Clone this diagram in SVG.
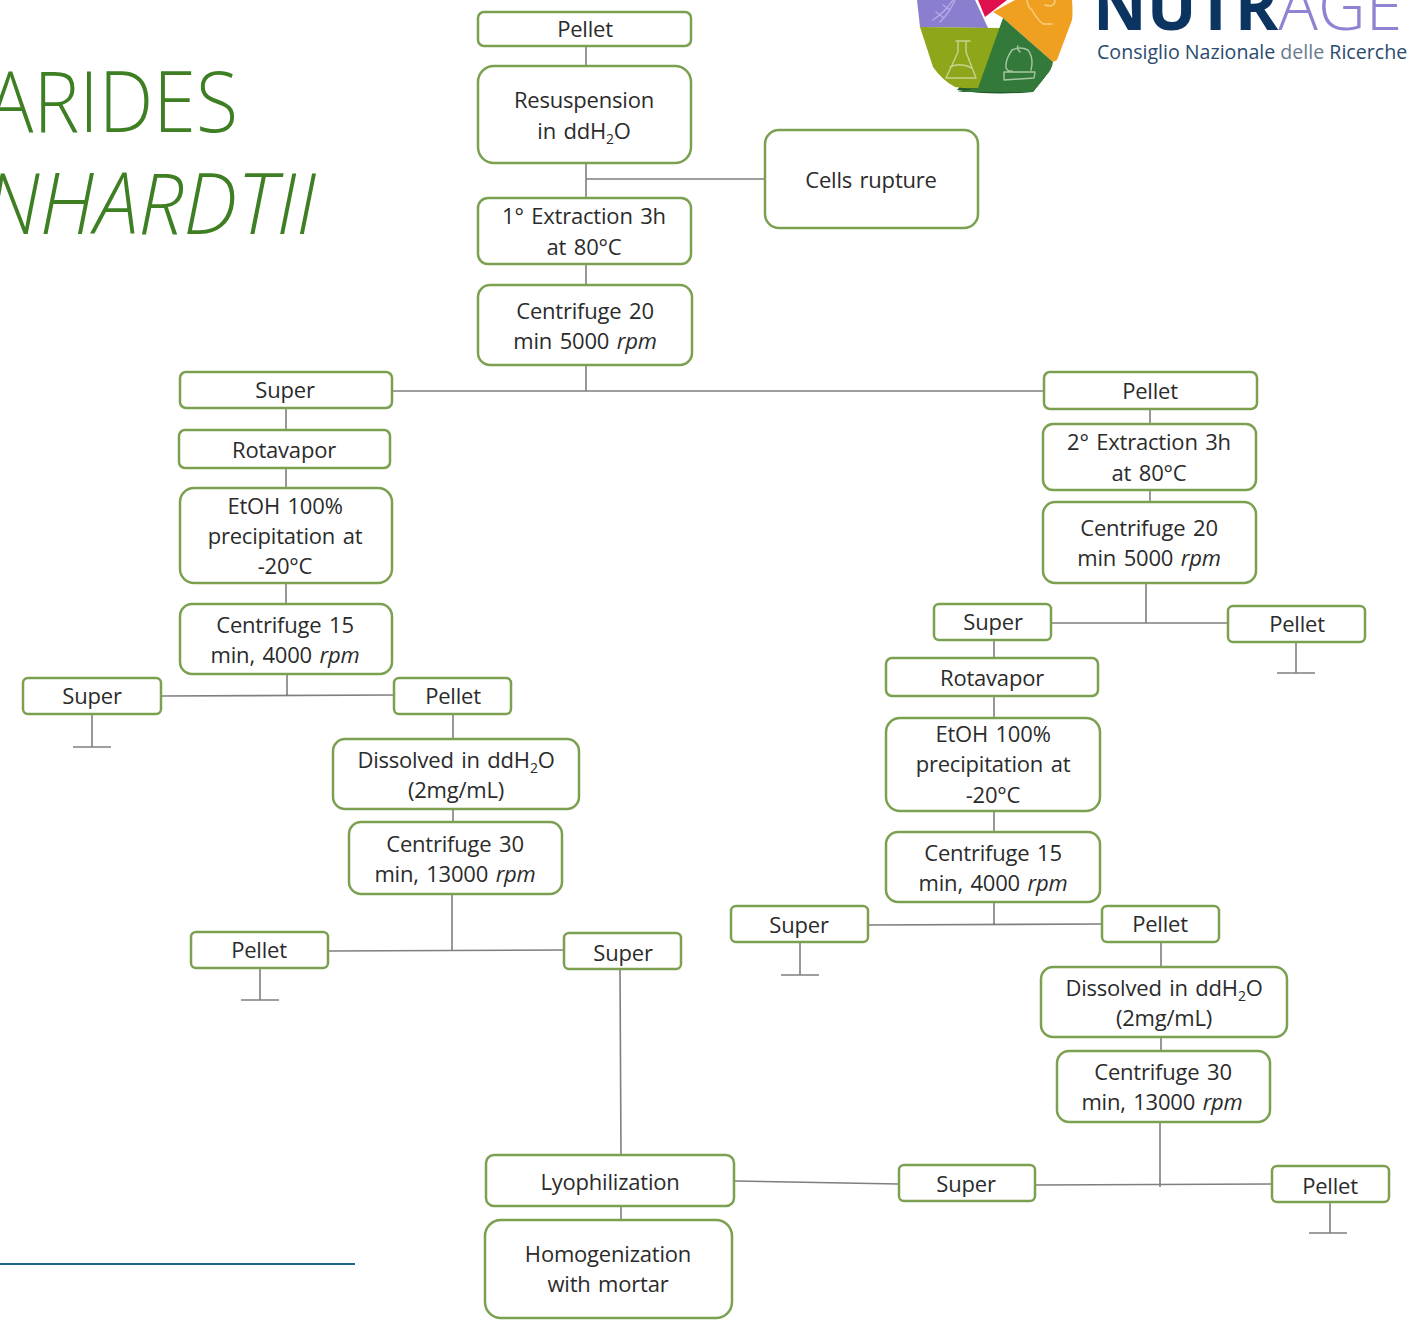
<svg xmlns="http://www.w3.org/2000/svg" width="1409" height="1326" viewBox="0 0 1409 1326">
<style>
.b{fill:#fff;stroke:#7ba050;stroke-width:2.5}
.c path,.c line{fill:none;stroke:#7f7f7f;stroke-width:1.6}
.t{font-family:"Open Sans","Noto Sans",sans-serif;font-size:22px;fill:#2b2b2b;text-anchor:middle;letter-spacing:-.2px;word-spacing:2px}
.i{font-style:italic}
.s{font-size:14px}
.h{font-family:"Open Sans","Noto Sans",sans-serif;font-weight:300;font-size:84px;fill:#3f7f23}
.ic{fill:none;stroke-width:1.4;stroke-linejoin:round;stroke-linecap:round}
</style>
<rect width="1409" height="1326" fill="#fff"/>
<g id="title">
<text class="h" x="-13" y="132" textLength="251" lengthAdjust="spacingAndGlyphs">ARIDES</text>
<text class="h" x="-15" y="234" font-style="italic" textLength="331" lengthAdjust="spacingAndGlyphs">NHARDTII</text>
<line x1="0" y1="1264" x2="355" y2="1264" stroke="#1f6386" stroke-width="2.2"/>
</g>
<g id="logo">
<path d="M957 90 Q990 96 1033 92 L1045 77 L1000 40 Z" fill="#1f5a2c"/>
<path d="M917 0 L975 0 L988 28 L920 27 Z" fill="#8a7fcf"/>
<path d="M978 0 L1007 0 L985 17 Z" fill="#e0104f"/>
<path d="M993 12 L1015 0 L1072 0 Q1073 12 1072 20 L1057 60 L1053 62 L1003 18 Z" fill="#f0a020"/>
<path d="M920 27 L1000 28 L980 88 Q965 89 955 87 Q942 80 933 67 Z" fill="#8da61a"/>
<path d="M1003 18 L1053 62 Q1052 70 1045 77 L1033 92 L957 92 L978 88 Z" fill="#33793a"/>
<path class="ic" stroke="#b7a9ea" d="M933 20Q945 12 953 0M940 22Q950 12 955 0M936 12L944 18M943 5L950 10"/>
<path class="ic" stroke="#f7cf83" d="M1027 0Q1028 8 1032 10Q1036 18 1043 24H1052M1045 5Q1055 8 1055 0"/>
<path class="ic" stroke="#c8d48c" d="M956 41H970M958 41V52L946 78H976L966 52V41M950 67Q960 62 972 68"/>
<path class="ic" stroke="#a5c8a0" d="M1012 50Q1005 60 1006 68Q1008 72 1012 71M1012 50Q1020 46 1028 50Q1034 58 1031 70M1018 46Q1016 48 1020 52M1004 72L1035 72L1034 78L1004 80Z"/>
<text x="1093" y="30" font-family="'Open Sans',sans-serif" font-weight="700" font-size="66" fill="#0b3560">NUTR<tspan font-weight="300" fill="#8f83d2">AGE</tspan></text>
<text x="1097" y="59" font-family="'Open Sans',sans-serif" font-size="19.6" fill="#2a4a70">Consiglio Nazionale <tspan fill="#6b7a8c">delle</tspan> Ricerche</text>
</g>
<g class="c" id="connectors">
<path d="M586 46V66M586 163V198M586 179H765M586 264V285M586 365V391M392 391H1044"/>
<path d="M286 408V430M286 468V488M286 583V604M287 674V696M161 696L394 695M92 714V747M73 747H111"/>
<path d="M453 714V739M453 809V822M452 894V951M328 951L564 950M260 968V1000M241 1000H279"/>
<path d="M620 969L621 1155M621 1206V1220M734 1181L899 1184"/>
<path d="M1150 409V424M1150 490V502M1146 583V623M1051 623H1228M1296 642V673M1277 673H1315"/>
<path d="M994 640V658M994 696V718M994 811V832M994 902V924M868 925L1102 924M800 942V975M781 975H819"/>
<path d="M1161 942V967M1161 1037V1051M1160 1122V1187M1035 1185L1272 1184M1330 1202V1233M1309 1233H1347"/>
</g>
<g id="n1"><rect class="b" x="478" y="12" width="213" height="34" rx="6"/><text class="t" x="585" y="37">Pellet</text></g>
<g id="n2"><rect class="b" x="478" y="66" width="213" height="97" rx="16"/><text class="t" x="584" y="108">Resuspension</text><text class="t" x="584" y="139">in ddH<tspan class="s" dy="5">2</tspan><tspan dy="-5">O</tspan></text></g>
<g id="n3"><rect class="b" x="765" y="130" width="213" height="98" rx="14"/><text class="t" x="871" y="188">Cells rupture</text></g>
<g id="n4"><rect class="b" x="478" y="198" width="213" height="66" rx="10"/><text class="t" x="584" y="224">1° Extraction 3h</text><text class="t" x="584" y="255">at 80°C</text></g>
<g id="n5"><rect class="b" x="478" y="285" width="214" height="80" rx="12"/><text class="t" x="585" y="319">Centrifuge 20</text><text class="t" x="585" y="349">min 5000 <tspan class="i">rpm</tspan></text></g>
<g id="n6"><rect class="b" x="180" y="372" width="212" height="36" rx="6"/><text class="t" x="285" y="398">Super</text></g>
<g id="n7"><rect class="b" x="179" y="430" width="211" height="38" rx="6"/><text class="t" x="284" y="458">Rotavapor</text></g>
<g id="n8"><rect class="b" x="180" y="488" width="212" height="95" rx="14"/><text class="t" x="285" y="514">EtOH 100%</text><text class="t" x="285" y="544">precipitation at</text><text class="t" x="285" y="574">-20°C</text></g>
<g id="n9"><rect class="b" x="180" y="604" width="212" height="70" rx="12"/><text class="t" x="285" y="633">Centrifuge 15</text><text class="t" x="285" y="663">min, 4000 <tspan class="i">rpm</tspan></text></g>
<g id="n10"><rect class="b" x="23" y="678" width="138" height="36" rx="5"/><text class="t" x="92" y="704">Super</text></g>
<g id="n11"><rect class="b" x="394" y="678" width="117" height="36" rx="5"/><text class="t" x="453" y="704">Pellet</text></g>
<g id="n12"><rect class="b" x="333" y="739" width="246" height="70" rx="12"/><text class="t" x="456" y="768">Dissolved in ddH<tspan class="s" dy="5">2</tspan><tspan dy="-5">O</tspan></text><text class="t" x="456" y="798">(2mg/mL)</text></g>
<g id="n13"><rect class="b" x="349" y="822" width="213" height="72" rx="12"/><text class="t" x="455" y="852">Centrifuge 30</text><text class="t" x="455" y="882">min, 13000 <tspan class="i">rpm</tspan></text></g>
<g id="n14"><rect class="b" x="191" y="932" width="137" height="36" rx="5"/><text class="t" x="259" y="958">Pellet</text></g>
<g id="n15"><rect class="b" x="564" y="933" width="117" height="36" rx="5"/><text class="t" x="623" y="961">Super</text></g>
<g id="n16"><rect class="b" x="486" y="1155" width="248" height="51" rx="8"/><text class="t" x="610" y="1190">Lyophilization</text></g>
<g id="n17"><rect class="b" x="485" y="1220" width="247" height="98" rx="16"/><text class="t" x="608" y="1262">Homogenization</text><text class="t" x="608" y="1292">with mortar</text></g>
<g id="n18"><rect class="b" x="1044" y="372" width="213" height="37" rx="6"/><text class="t" x="1150" y="399">Pellet</text></g>
<g id="n19"><rect class="b" x="1043" y="424" width="213" height="66" rx="10"/><text class="t" x="1149" y="450">2° Extraction 3h</text><text class="t" x="1149" y="481">at 80°C</text></g>
<g id="n20"><rect class="b" x="1043" y="502" width="213" height="81" rx="12"/><text class="t" x="1149" y="536">Centrifuge 20</text><text class="t" x="1149" y="566">min 5000 <tspan class="i">rpm</tspan></text></g>
<g id="n21"><rect class="b" x="934" y="604" width="117" height="36" rx="5"/><text class="t" x="993" y="630">Super</text></g>
<g id="n22"><rect class="b" x="1228" y="606" width="137" height="36" rx="5"/><text class="t" x="1297" y="632">Pellet</text></g>
<g id="n23"><rect class="b" x="886" y="658" width="212" height="38" rx="6"/><text class="t" x="992" y="686">Rotavapor</text></g>
<g id="n24"><rect class="b" x="886" y="718" width="214" height="93" rx="14"/><text class="t" x="993" y="742">EtOH 100%</text><text class="t" x="993" y="772">precipitation at</text><text class="t" x="993" y="803">-20°C</text></g>
<g id="n25"><rect class="b" x="886" y="832" width="214" height="70" rx="12"/><text class="t" x="993" y="861">Centrifuge 15</text><text class="t" x="993" y="891">min, 4000 <tspan class="i">rpm</tspan></text></g>
<g id="n26"><rect class="b" x="731" y="906" width="137" height="36" rx="5"/><text class="t" x="799" y="933">Super</text></g>
<g id="n27"><rect class="b" x="1102" y="906" width="117" height="36" rx="5"/><text class="t" x="1160" y="932">Pellet</text></g>
<g id="n28"><rect class="b" x="1041" y="967" width="246" height="70" rx="12"/><text class="t" x="1164" y="996">Dissolved in ddH<tspan class="s" dy="5">2</tspan><tspan dy="-5">O</tspan></text><text class="t" x="1164" y="1026">(2mg/mL)</text></g>
<g id="n29"><rect class="b" x="1057" y="1051" width="213" height="71" rx="12"/><text class="t" x="1163" y="1080">Centrifuge 30</text><text class="t" x="1162" y="1110">min, 13000 <tspan class="i">rpm</tspan></text></g>
<g id="n30"><rect class="b" x="899" y="1165" width="136" height="36" rx="5"/><text class="t" x="966" y="1192">Super</text></g>
<g id="n31"><rect class="b" x="1272" y="1166" width="117" height="36" rx="5"/><text class="t" x="1330" y="1194">Pellet</text></g>
</svg>
